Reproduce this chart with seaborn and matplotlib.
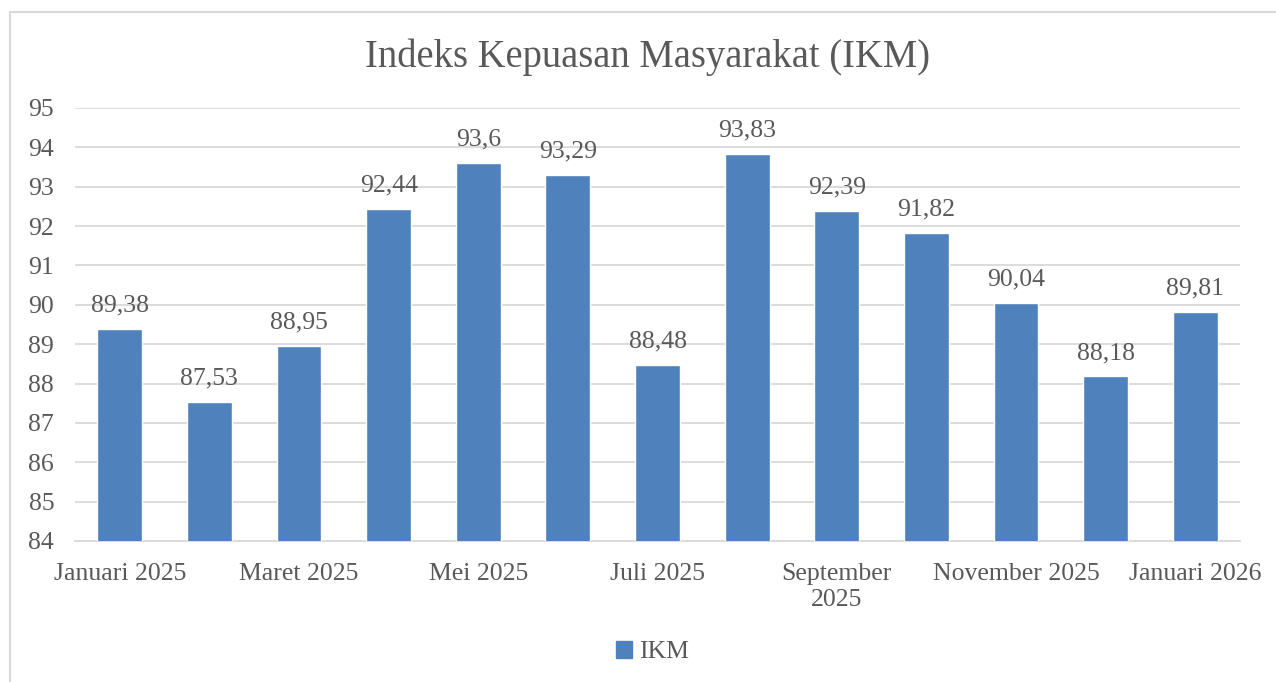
import matplotlib
matplotlib.use("Agg")
import matplotlib.pyplot as plt
import pandas as pd
import seaborn as sns
from matplotlib.patches import Rectangle, Patch

# Data IKM per bulan
BULAN = [
    "Januari 2025", "Februari 2025", "Maret 2025", "April 2025", "Mei 2025",
    "Juni 2025", "Juli 2025", "Agustus 2025", "September 2025", "Oktober 2025",
    "November 2025", "Desember 2025", "Januari 2026",
]
IKM = [89.38, 87.53, 88.95, 92.44, 93.6, 93.29, 88.48, 93.83, 92.39, 91.82, 90.04, 88.18, 89.81]
TICK_LABELS = [
    "Januari 2025", "", "Maret 2025", "", "Mei 2025", "", "Juli 2025", "",
    "September\n2025", "", "November 2025", "", "Januari 2026",
]
Y_TICKS = list(range(84, 96))

BAR_COLOR = "#4F81BD"
TEXT_COLOR = "#595959"
GRID_COLOR = "#D9D9D9"

sns.set_theme(style="white")
plt.rcParams["font.family"] = ["Liberation Serif", "DejaVu Serif"]

df = pd.DataFrame({"Bulan": BULAN, "IKM": IKM})

fig = plt.figure(figsize=(12.76, 6.82), dpi=100)
ax = fig.add_axes([75 / 1276, 1 - 541 / 682, 1165 / 1276, 433 / 682])

sns.barplot(data=df, x="Bulan", y="IKM", color=BAR_COLOR, width=0.5,
            saturation=1, ax=ax, zorder=3)

ax.set_ylim(84, 95)
ax.set_yticks(Y_TICKS)
ax.set_xticks(range(len(BULAN)))
ax.set_xticklabels(TICK_LABELS, linespacing=1.25)
ax.set_xlabel("")
ax.set_ylabel("")
ax.set_xlim(-0.5, len(BULAN) - 0.5)

ax.grid(axis="y", color=GRID_COLOR, linewidth=1.3, zorder=0)
for side in ["left", "right", "top"]:
    ax.spines[side].set_visible(False)
ax.spines["bottom"].set_color(GRID_COLOR)
ax.spines["bottom"].set_linewidth(1.3)
ax.tick_params(axis="both", length=0, labelsize=18.5, colors=TEXT_COLOR)
ax.tick_params(axis="y", pad=15)
ax.tick_params(axis="x", pad=16)

labels = [f"{v:g}".replace(".", ",") for v in IKM]
ax.bar_label(ax.containers[0], labels=labels, padding=9, fontsize=18.5,
             color=TEXT_COLOR)

fig.text(648 / 1276, 1 - 57 / 682, "Indeks Kepuasan Masyarakat (IKM)",
         ha="center", va="center", fontsize=27.8, color=TEXT_COLOR)

fig.legend(handles=[Patch(color=BAR_COLOR, label="IKM")], loc="center",
           bbox_to_anchor=(652 / 1276, 1 - 652 / 682), frameon=False,
           fontsize=18.5, handlelength=0.65, handleheight=0.65, handletextpad=0.25,
           labelcolor=TEXT_COLOR)

# bingkai luar area chart
fig.patches.append(Rectangle((10 / 1276, -0.05), 1.1, 1 - 12 / 682 + 0.05,
                             transform=fig.transFigure, fill=False,
                             edgecolor=GRID_COLOR, linewidth=1.5))

fig.savefig("out.png", dpi=100)
